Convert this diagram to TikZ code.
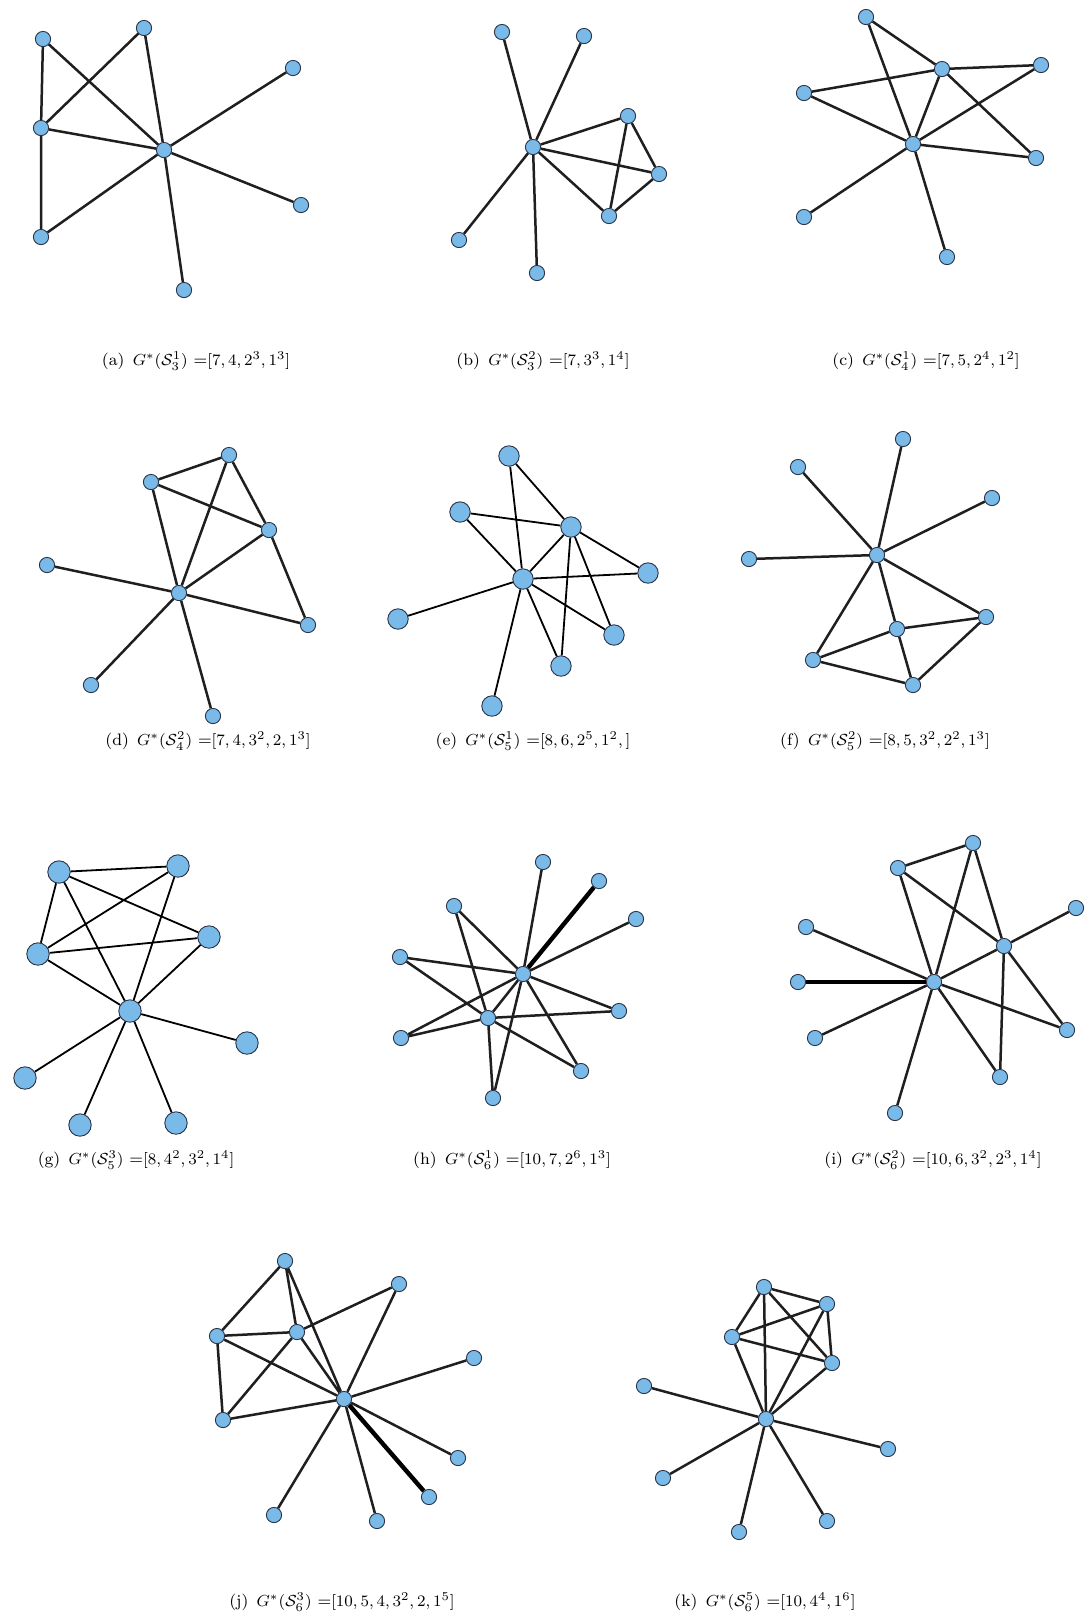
\documentclass[tikz,border=0pt]{standalone}
\usepackage{amsmath,amssymb}
\definecolor{nodeblue}{RGB}{122,186,232}
\definecolor{nodeedge}{RGB}{40,50,70}
\tikzset{
  v/.style={circle, draw=nodeedge, line width=0.45pt, fill=nodeblue, minimum size=7.6pt, inner sep=0pt},
  vb/.style={v, minimum size=10.2pt},
  vg/.style={v, minimum size=11.2pt},
  ed/.style={line width=1.25pt, black!88},
  edl/.style={line width=0.9pt, black},
  edt/.style={line width=2.2pt, black},
  captxt/.style={font=\fontsize{8.3}{10}\selectfont, anchor=center, inner sep=0pt}
}
\newcommand{\Gs}[2]{$G^{*}(\mathcal{S}_{#1}^{#2})$}
\begin{document}
\begin{tikzpicture}[x=0.5pt, y=-0.5pt]
\useasboundingbox[fill=white] (0,0) rectangle (1086,1614);

% ---------------- (a)
\node[v] (a1) at (43,39) {};
\node[v] (a2) at (144,28) {};
\node[v] (a3) at (293,68) {};
\node[v] (a4) at (41,128) {};
\node[v] (ac) at (164,150) {};
\node[v] (a5) at (301,205) {};
\node[v] (a6) at (41,237) {};
\node[v] (a7) at (184,290) {};
\draw[ed] (a1)--(a4) (a1)--(ac) (a2)--(a4) (a2)--(ac) (a3)--(ac) (a4)--(ac)
  (a4)--(a6) (a6)--(ac) (ac)--(a5) (ac)--(a7);
\node[captxt] (ca) at (196,361) {(a)\enspace\Gs{3}{1} =$[7,4,2^3,1^3]$};

% ---------------- (b)
\node[v] (b1) at (502,32) {};
\node[v] (b2) at (584,36) {};
\node[v] (b3) at (628,116) {};
\node[v] (bc) at (533,147) {};
\node[v] (b4) at (659,174) {};
\node[v] (b5) at (609,216) {};
\node[v] (b6) at (459,240) {};
\node[v] (b7) at (537,273) {};
\draw[ed] (bc)--(b1) (bc)--(b2) (bc)--(b3) (bc)--(b4) (bc)--(b5) (bc)--(b6) (bc)--(b7)
  (b3)--(b4) (b3)--(b5) (b4)--(b5);
\node[captxt] (cb) at (543,361) {(b)\enspace\Gs{3}{2} =$[7,3^3,1^4]$};

% ---------------- (c)
\node[v] (c1) at (866,17) {};
\node[v] (c2) at (942,69) {};
\node[v] (c3) at (1041,65) {};
\node[v] (c4) at (804,93) {};
\node[v] (cc) at (913,144) {};
\node[v] (c5) at (1036,158) {};
\node[v] (c6) at (804,217) {};
\node[v] (c7) at (947,257) {};
\draw[ed] (c1)--(c2) (c1)--(cc) (c2)--(c3) (c2)--(c4) (c2)--(cc) (c2)--(c5)
  (c3)--(cc) (c4)--(cc) (cc)--(c5) (cc)--(c6) (cc)--(c7);
\node[captxt] (ccap) at (926,361) {(c)\enspace\Gs{4}{1} =$[7,5,2^4,1^2]$};

% ---------------- (d)
\node[v] (d1) at (229,455) {};
\node[v] (d2) at (151,482) {};
\node[v] (d3) at (269,530) {};
\node[v] (d4) at (47,565) {};
\node[v] (dc) at (179,593) {};
\node[v] (d5) at (308,625) {};
\node[v] (d6) at (91,685) {};
\node[v] (d7) at (213,716) {};
\draw[ed] (d2)--(d1) (d2)--(d3) (d2)--(dc) (d1)--(dc) (d1)--(d3) (d3)--(dc)
  (d3)--(d5) (d4)--(dc) (dc)--(d5) (dc)--(d6) (dc)--(d7);
\node[captxt] (cd) at (208,741) {(d)\enspace\Gs{4}{2} =$[7,4,3^2,2,1^3]$};

% ---------------- (e)
\node[vb] (e1) at (509,456) {};
\node[vb] (e2) at (460,512) {};
\node[vb] (e3) at (571,527) {};
\node[vb] (e4) at (648,573) {};
\node[vb] (ec) at (523,579) {};
\node[vb] (e5) at (398,619) {};
\node[vb] (e6) at (614,635) {};
\node[vb] (e7) at (561,666) {};
\node[vb] (e8) at (492,706) {};
\draw[edl] (e1)--(ec) (e1)--(e3) (e2)--(e3) (e2)--(ec) (e3)--(ec) (e3)--(e4)
  (e3)--(e7) (e3)--(e6) (ec)--(e4) (ec)--(e5) (ec)--(e6) (ec)--(e7) (ec)--(e8);
\node[captxt] (ce) at (533,741) {(e)\enspace\Gs{5}{1} =$[8,6,2^5,1^2,]$};

% ---------------- (f)
\node[v] (f1) at (903,439) {};
\node[v] (f2) at (798,467) {};
\node[v] (f3) at (992,498) {};
\node[v] (f4) at (749,559) {};
\node[v] (fc) at (877,555) {};
\node[v] (f5) at (986,617) {};
\node[v] (f6) at (897,629) {};
\node[v] (f7) at (813,660) {};
\node[v] (f8) at (913,685) {};
\draw[ed] (fc)--(f1) (fc)--(f2) (fc)--(f3) (fc)--(f4) (fc)--(f5) (fc)--(f6) (fc)--(f7)
  (f6)--(f5) (f6)--(f7) (f6)--(f8) (f7)--(f8) (f5)--(f8);
\node[captxt] (cf) at (885,741) {(f)\enspace\Gs{5}{2} =$[8,5,3^2,2^2,1^3]$};

% ---------------- (g)
\node[vg] (g1) at (59,872) {};
\node[vg] (g2) at (178,866) {};
\node[vg] (g3) at (209,937) {};
\node[vg] (g4) at (38,954) {};
\node[vg] (gc) at (130,1011) {};
\node[vg] (g5) at (247,1043) {};
\node[vg] (g6) at (25,1078) {};
\node[vg] (g7) at (80,1125) {};
\node[vg] (g8) at (176,1123) {};
\draw[edl] (g1)--(g2) (g1)--(g3) (g1)--(g4) (g1)--(gc) (g2)--(g4) (g2)--(gc)
  (g4)--(g3) (g4)--(gc) (g3)--(gc) (gc)--(g5) (gc)--(g6) (gc)--(g7) (gc)--(g8);
\node[captxt] (cg) at (136,1160) {(g)\enspace\Gs{5}{3} =$[8,4^2,3^2,1^4]$};

% ---------------- (h)
\node[v] (h1) at (543,862) {};
\node[v] (h2) at (599,881) {};
\node[v] (h3) at (454,906) {};
\node[v] (h4) at (636,919) {};
\node[v] (h5) at (400,957) {};
\node[v] (hc) at (523,974) {};
\node[v] (h6) at (619,1011) {};
\node[v] (hd) at (488,1018) {};
\node[v] (h7) at (401,1038) {};
\node[v] (h8) at (581,1071) {};
\node[v] (h9) at (493,1098) {};
\draw[ed] (hc)--(h1) (hc)--(h4) (hc)--(h3) (hc)--(h5) (hc)--(h6) (hc)--(h8)
  (hc)--(h9) (hc)--(h7) (hc)--(hd)
  (hd)--(h3) (hd)--(h5) (hd)--(h6) (hd)--(h7) (hd)--(h8) (hd)--(h9);
\draw[edt] (hc)--(h2);
\node[captxt] (ch) at (512,1160) {(h)\enspace\Gs{6}{1} =$[10,7,2^6,1^3]$};

% ---------------- (i)
\node[v] (i1) at (973,843) {};
\node[v] (i2) at (898,868) {};
\node[v] (i3) at (1076,908) {};
\node[v] (i4) at (806,927) {};
\node[v] (i5) at (1004,946) {};
\node[v] (ic) at (934,982) {};
\node[v] (i6) at (798,982) {};
\node[v] (i7) at (815,1038) {};
\node[v] (i8) at (1067,1030) {};
\node[v] (i9) at (1000,1077) {};
\node[v] (i10) at (895,1113) {};
\draw[ed] (i2)--(i1) (i2)--(ic) (i2)--(i5) (i1)--(ic) (i1)--(i5) (i5)--(i3)
  (i5)--(ic) (i5)--(i8) (i5)--(i9) (ic)--(i4) (ic)--(i7) (ic)--(i8)
  (ic)--(i9) (ic)--(i10);
\draw[edt] (ic)--(i6);
\node[captxt] (ci) at (933,1160) {(i)\enspace\Gs{6}{2} =$[10,6,3^2,2^3,1^4]$};

% ---------------- (j)
\node[v] (j1) at (285,1261) {};
\node[v] (j2) at (399,1284) {};
\node[v] (j3) at (217,1336) {};
\node[v] (j4) at (297,1332) {};
\node[v] (j5) at (474,1358) {};
\node[v] (jc) at (344,1399) {};
\node[v] (j6) at (223,1420) {};
\node[v] (j7) at (458,1458) {};
\node[v] (j8) at (429,1497) {};
\node[v] (j9) at (274,1515) {};
\node[v] (j10) at (377,1521) {};
\draw[ed] (j1)--(j3) (j1)--(j4) (j1)--(jc) (j3)--(j4) (j3)--(jc) (j3)--(j6)
  (j4)--(j2) (j4)--(jc) (j4)--(j6) (j2)--(jc) (j6)--(jc) (jc)--(j5)
  (jc)--(j7) (jc)--(j9) (jc)--(j10);
\draw[edt] (jc)--(j8);
\node[captxt] (cj) at (342,1602) {(j)\enspace\Gs{6}{3} =$[10,5,4,3^2,2,1^5]$};

% ---------------- (k)
\node[v] (k1) at (764,1287) {};
\node[v] (k2) at (827,1304) {};
\node[v] (k3) at (732,1337) {};
\node[v] (k4) at (832,1363) {};
\node[v] (k5) at (644,1386) {};
\node[v] (kc) at (766,1419) {};
\node[v] (k6) at (888,1449) {};
\node[v] (k7) at (663,1478) {};
\node[v] (k8) at (827,1521) {};
\node[v] (k9) at (739,1532) {};
\draw[ed] (k1)--(k2) (k1)--(k3) (k1)--(k4) (k1)--(kc) (k2)--(k3) (k2)--(k4)
  (k2)--(kc) (k3)--(k4) (k3)--(kc) (k4)--(kc)
  (kc)--(k5) (kc)--(k6) (kc)--(k7) (kc)--(k8) (kc)--(k9);
\node[captxt] (ck) at (765,1602) {(k)\enspace\Gs{6}{5} =$[10,4^4,1^6]$};
\end{tikzpicture}
\end{document}
